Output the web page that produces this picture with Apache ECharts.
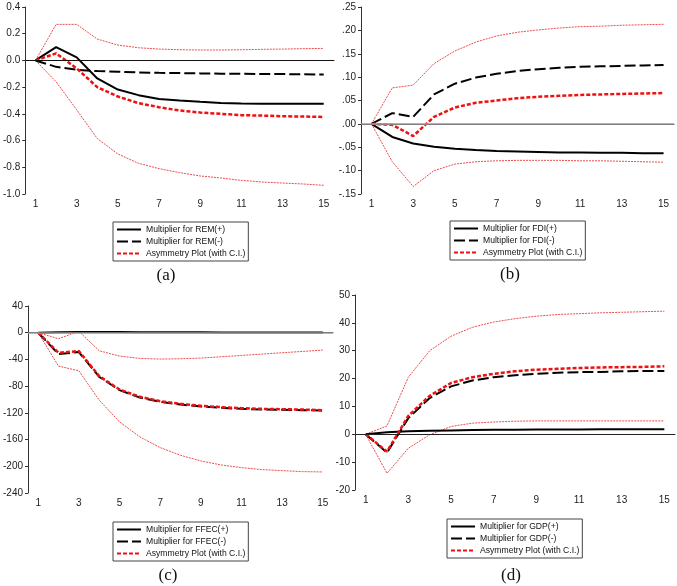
<!DOCTYPE html>
<html>
<head>
    <meta charset="utf-8">
    <title>Asymmetric multipliers</title>
    <script src="https://cdn.jsdelivr.net/npm/echarts@6/dist/echarts.min.js"></script>
    <style>
        html, body { margin: 0; padding: 0; background: #fff; }
        #main { width: 677px; height: 586px; }
    </style>
</head>
<body>
    <div id="main"></div>

    <script>
    // horizon (periods)
    const periods = ['1','2','3','4','5','6','7','8','9','10','11','12','13','14','15'];

    // (a) REM
    const remPos  = [0, 0.10, 0.023, -0.135, -0.218, -0.26, -0.288, -0.30, -0.31, -0.318, -0.322, -0.325, -0.325, -0.325, -0.325];
    const remNeg  = [0, -0.048, -0.07, -0.08, -0.085, -0.09, -0.093, -0.095, -0.097, -0.099, -0.1, -0.101, -0.102, -0.104, -0.105];
    const remAsym = [0, 0.053, -0.06, -0.2, -0.27, -0.32, -0.35, -0.375, -0.39, -0.40, -0.41, -0.413, -0.418, -0.42, -0.423];
    const remUp   = [0, 0.27, 0.27, 0.16, 0.115, 0.095, 0.085, 0.08, 0.078, 0.078, 0.08, 0.083, 0.085, 0.088, 0.09];
    const remLo   = [0, -0.16, -0.37, -0.585, -0.70, -0.77, -0.81, -0.84, -0.865, -0.88, -0.898, -0.91, -0.918, -0.925, -0.935];

    // (b) FDI
    const fdiPos  = [0, -0.028, -0.042, -0.049, -0.053, -0.056, -0.058, -0.059, -0.06, -0.061, -0.061, -0.062, -0.062, -0.063, -0.063];
    const fdiNeg  = [0, 0.023, 0.015, 0.063, 0.086, 0.099, 0.107, 0.113, 0.117, 0.12, 0.122, 0.123, 0.124, 0.125, 0.126];
    const fdiAsym = [0, -0.002, -0.026, 0.015, 0.035, 0.045, 0.05, 0.055, 0.058, 0.06, 0.062, 0.063, 0.064, 0.065, 0.066];
    const fdiUp   = [0, 0.077, 0.083, 0.129, 0.156, 0.175, 0.188, 0.196, 0.201, 0.205, 0.208, 0.209, 0.211, 0.212, 0.213];
    const fdiLo   = [0, -0.081, -0.134, -0.10, -0.086, -0.081, -0.079, -0.078, -0.078, -0.078, -0.079, -0.079, -0.08, -0.081, -0.082];

    // (c) FFEC
    const ffecPos  = [0, 0.8, 1.2, 1, 0.9, 0.8, 0.7, 0.6, 0.6, 0.5, 0.5, 0.5, 0.4, 0.4, 0.4];
    const ffecNeg  = [0, -32, -29, -66, -86, -97, -103.5, -107.5, -110.5, -112.5, -114, -115, -115.5, -116, -116.5];
    const ffecAsym = [0, -30, -27.5, -65, -85, -96, -102.5, -106.5, -109.5, -111.5, -113, -114, -114.5, -115, -116];
    const ffecUp   = [0, -9, 2, -27, -35, -38.5, -39.5, -39, -38, -36, -34, -32, -30, -28, -26];
    const ffecLo   = [0, -50, -57, -101, -133.5, -156, -172, -183.5, -192, -198, -202, -205, -206.5, -208, -208.5];

    // (d) GDP
    const gdpPos  = [0, 0.7, 1.1, 1.3, 1.4, 1.5, 1.6, 1.6, 1.7, 1.7, 1.7, 1.8, 1.8, 1.8, 1.8];
    const gdpNeg  = [0, -6.6, 5.8, 13, 17.2, 19.3, 20.5, 21.2, 21.7, 22.1, 22.3, 22.4, 22.6, 22.7, 22.7];
    const gdpAsym = [0, -6.2, 6.6, 13.8, 18.4, 20.5, 21.7, 22.6, 23.2, 23.5, 23.8, 24, 24.1, 24.2, 24.4];
    const gdpUp   = [0, 3, 20.5, 30, 35.2, 38.4, 40.3, 41.5, 42.4, 43, 43.3, 43.6, 43.8, 44, 44.2];
    const gdpLo   = [0, -14, -5, -0.2, 2.8, 4, 4.4, 4.7, 4.8, 4.8, 4.8, 4.8, 4.8, 4.8, 4.8];

    const ASYM = 'Asymmetry Plot (with C.I.)';

    function fmt1(v) { if (Math.abs(v) < 1e-9) v = 0; return v.toFixed(1); }
    function fmtDot(v) { if (Math.abs(v) < 1e-9) v = 0; return v.toFixed(2).replace(/^(-?)0\./, '$1.'); }
    function fmtInt(v) { return String(Math.round(v)); }

    const panels = [
        { name: 'REM',  pos: remPos,  neg: remNeg,  asym: remAsym,  up: remUp,  lo: remLo,
          grid: { left: 23, top: 7, width: 311, height: 187 }, min: -1.0, max: 0.4, step: 0.2, fmt: fmt1,
          zero: '#111', zeroW: 1, legend: { left: 113, top: 222 }, cap: '(a)', capX: 166, capY: 276 },
        { name: 'FDI',  pos: fdiPos,  neg: fdiNeg,  asym: fdiAsym,  up: fdiUp,  lo: fdiLo,
          grid: { left: 361, top: 7, width: 313, height: 187 }, min: -0.15, max: 0.25, step: 0.05, fmt: fmtDot,
          zero: '#9a9a9a', zeroW: 1.6, legend: { left: 450, top: 221 }, cap: '(b)', capX: 510, capY: 275 },
        { name: 'FFEC', pos: ffecPos, neg: ffecNeg, asym: ffecAsym, up: ffecUp, lo: ffecLo,
          grid: { left: 23, top: 306, width: 310, height: 187 }, min: -240, max: 40, step: 40, fmt: fmtInt,
          zero: '#9a9a9a', zeroW: 1.6, legend: { left: 113, top: 522 }, cap: '(c)', capX: 168, capY: 576 },
        { name: 'GDP',  pos: gdpPos,  neg: gdpNeg,  asym: gdpAsym,  up: gdpUp,  lo: gdpLo,
          grid: { left: 355, top: 295, width: 320, height: 195 }, min: -20, max: 50, step: 10, fmt: fmtInt,
          zero: '#222', zeroW: 1, legend: { left: 447, top: 519 }, cap: '(d)', capX: 511, capY: 576 }
    ];

    const grid = [], xAxis = [], yAxis = [], series = [], legend = [], graphic = [];

    panels.forEach(function (p, i) {
        grid.push(p.grid);
        xAxis.push({
            type: 'category', gridIndex: i, data: periods, boundaryGap: true,
            axisLine: { lineStyle: { color: '#333', width: 1 } },
            axisTick: { inside: true, length: 3, interval: 0, lineStyle: { color: '#333' } },
            axisLabel: { interval: 1, fontSize: 10, color: '#222', margin: 5, fontFamily: 'Liberation Sans' },
            splitLine: { show: false }
        });
        yAxis.push({
            type: 'value', gridIndex: i, min: p.min, max: p.max, interval: p.step,
            axisLine: { show: true, lineStyle: { color: '#333', width: 1 } },
            axisTick: { show: true, length: 3, lineStyle: { color: '#333' } },
            axisLabel: { fontSize: 10, color: '#222', margin: 5, fontFamily: 'Liberation Sans', formatter: p.fmt },
            splitLine: { show: false }
        });

        const base = { type: 'line', xAxisIndex: i, yAxisIndex: i, symbol: 'none', silent: true };
        const ci = { color: '#e8393a', width: 0.9, type: [2, 1] };

        series.push(Object.assign({}, base, {
            name: 'CI upper ' + p.name, data: p.up, lineStyle: ci, itemStyle: { color: '#e8393a' },
            markLine: {
                silent: true, symbol: 'none', label: { show: false },
                lineStyle: { color: p.zero, width: p.zeroW, type: 'solid' },
                data: [{ yAxis: 0 }]
            }
        }));
        series.push(Object.assign({}, base, {
            name: 'CI lower ' + p.name, data: p.lo, lineStyle: ci, itemStyle: { color: '#e8393a' }
        }));
        series.push(Object.assign({}, base, {
            name: 'Multiplier for ' + p.name + '(+)', data: p.pos,
            lineStyle: { color: '#000', width: 2, type: 'solid' }, itemStyle: { color: '#000' }
        }));
        series.push(Object.assign({}, base, {
            name: 'Multiplier for ' + p.name + '(-)', data: p.neg,
            lineStyle: { color: '#000', width: 2, type: [11, 4] }, itemStyle: { color: '#000' }
        }));
        series.push(Object.assign({}, base, {
            name: ASYM, data: p.asym,
            lineStyle: { color: '#ee1111', width: 2.5, type: [4, 2] }, itemStyle: { color: '#ee1111' }
        }));

        legend.push({
            left: p.legend.left, top: p.legend.top, orient: 'vertical',
            data: ['Multiplier for ' + p.name + '(+)', 'Multiplier for ' + p.name + '(-)', ASYM],
            itemWidth: 24, itemHeight: 10, itemGap: 1,
            padding: [2, 3, 2, 3],
            borderColor: '#444', borderWidth: 1,
            itemStyle: { opacity: 0 },
            textStyle: { fontSize: 8.6, color: '#111', fontFamily: 'Liberation Sans', lineHeight: 11 },
            selectedMode: false
        });

        graphic.push({
            type: 'text', x: p.capX, y: p.capY,
            style: {
                text: p.cap, fill: '#111', font: '17px "Liberation Serif"',
                textAlign: 'center', textVerticalAlign: 'middle'
            }
        });
    });

    const option = {
        animation: false,
        backgroundColor: '#fff',
        grid: grid,
        xAxis: xAxis,
        yAxis: yAxis,
        legend: legend,
        graphic: graphic,
        series: series
    };

    window.onload = function () {
        const chart = echarts.init(document.getElementById('main'));
        chart.setOption(option);
    };
    </script>
</body>
</html>
